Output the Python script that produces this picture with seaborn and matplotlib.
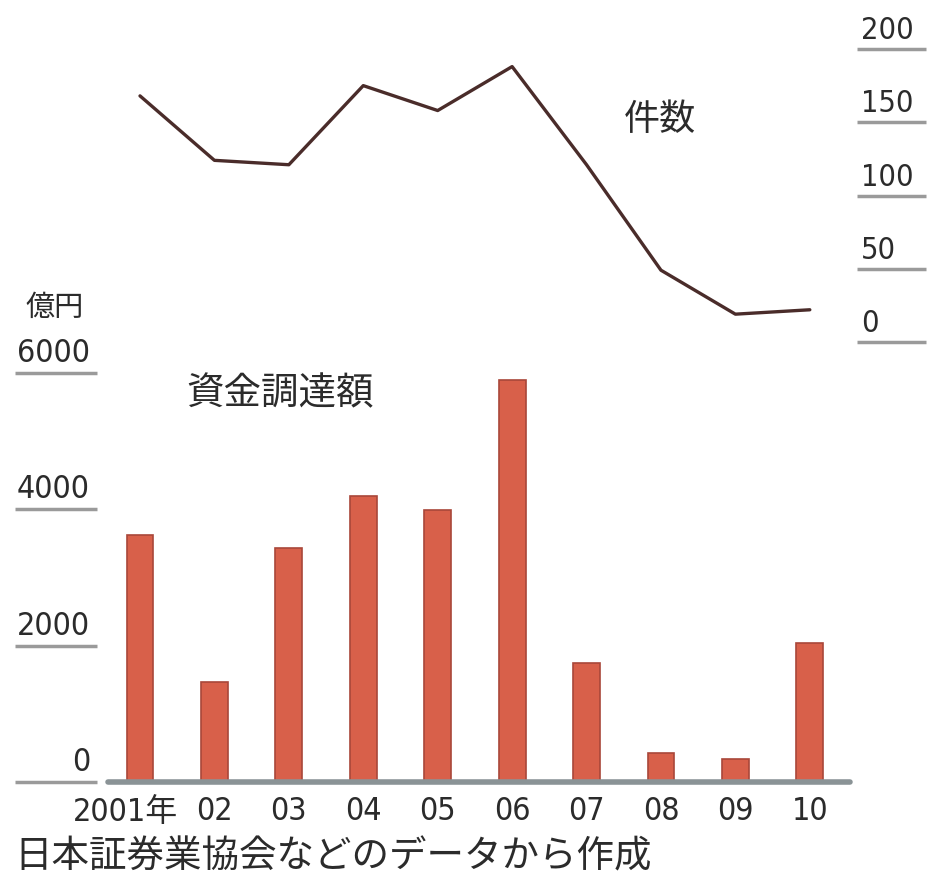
import numpy as np
import pandas as pd
import matplotlib
matplotlib.use("Agg")
import matplotlib.pyplot as plt
import matplotlib.transforms as mtransforms
from matplotlib import font_manager as fm
import seaborn as sns

# ---- data ----
years = ["2001年", "02", "03", "04", "05", "06", "07", "08", "09", "10"]
amount = [3630, 1460, 3430, 4190, 3990, 5900, 1750, 420, 335, 2040]   # 資金調達額 (億円)
counts = [168, 124, 121, 175, 158, 188, 121, 49, 19, 22]              # 件数
left_ticks = [0, 2000, 4000, 6000]
right_ticks = [0, 50, 100, 150, 200]

sns.set_theme(style="white")
names = {f.name for f in fm.fontManager.ttflist}
narrow = "Liberation Sans Narrow" if "Liberation Sans Narrow" in names else "DejaVu Sans"
plt.rcParams['font.family'] = ['Noto Sans CJK JP', 'DejaVu Sans']
num_font = [narrow, 'Noto Sans CJK JP']
TXT = "#2b2b2b"
GRAY = "#9a9a9a"

W, H = 930, 883
fig = plt.figure(figsize=(W / 100, H / 100), dpi=100)
fig.patch.set_facecolor("white")

def fx(px):
    return px / W

def fy(py):
    return 1 - py / H

ax = fig.add_axes([fx(108), fy(782), (850 - 108) / W, (782 - 373) / H])
ax2 = fig.add_axes([fx(108), fy(342), (850 - 108) / W, (342 - 49) / H])

df = pd.DataFrame({"year": years, "amount": amount, "count": counts,
                   "pos": np.arange(len(years))})

sns.barplot(data=df, x="year", y="amount", ax=ax, color="#d8604a",
            saturation=1, width=0.36, edgecolor="#a9473a", linewidth=1.2)
sns.lineplot(data=df, x="pos", y="count", ax=ax2, color="#4a2c2a", lw=2.4)

for a in (ax, ax2):
    a.set_xlim(-0.43, 9.54)
    a.set_xlabel("")
    a.set_ylabel("")
    a.set_xticks([])
    a.set_yticks([])
    for s in a.spines.values():
        s.set_visible(False)
    a.patch.set_alpha(0)
ax.set_ylim(0, 6000)
ax2.set_ylim(0, 200)

# baseline
ax.axhline(0, color="#8a9396", lw=4, clip_on=False, zorder=5)

# left tick labels with underlines
bl = mtransforms.blended_transform_factory(fig.transFigure, ax.transData)
off = mtransforms.ScaledTranslation(0, 4 / 100, fig.dpi_scale_trans)
for v in left_ticks:
    ax.plot([fx(15), fx(97)], [v, v], transform=bl, color=GRAY, lw=2.5,
            clip_on=False, solid_capstyle="butt")
    ax.text(fx(90), v, f"{v}", transform=bl + off, ha="right", va="bottom",
            fontsize=23, color=TXT, family=num_font, stretch="condensed",
            clip_on=False)

# right tick labels with underlines
br = mtransforms.blended_transform_factory(fig.transFigure, ax2.transData)
for v in right_ticks:
    ax2.plot([fx(857), fx(926)], [v, v], transform=br, color=GRAY, lw=2.5,
             clip_on=False, solid_capstyle="butt")
    ax2.text(fx(861), v, f"{v}", transform=br + off, ha="left", va="bottom",
             fontsize=22, color=TXT, family=num_font, stretch="condensed",
             clip_on=False)

# x labels
bx = mtransforms.blended_transform_factory(ax.transData, fig.transFigure)
for i, lab in enumerate(years):
    xoff = -0.2 if i == 0 else 0
    ax.text(i + xoff, fy(812), lab, transform=bx, ha="center", va="center",
            fontsize=23, color=TXT, family=num_font, stretch="condensed",
            clip_on=False)

# annotations
fig.text(fx(55), fy(308), "億円", ha="center", va="center", fontsize=21, color=TXT)
fig.text(fx(186), fy(394), "資金調達額", ha="left", va="center", fontsize=27, color=TXT)
fig.text(fx(624), fy(120), "件数", ha="left", va="center", fontsize=26, color=TXT)
fig.text(fx(14), fy(857), "日本証券業協会などのデータから作成", ha="left", va="center",
         fontsize=27, color=TXT)

fig.savefig("out.png", dpi=100, facecolor="white")
